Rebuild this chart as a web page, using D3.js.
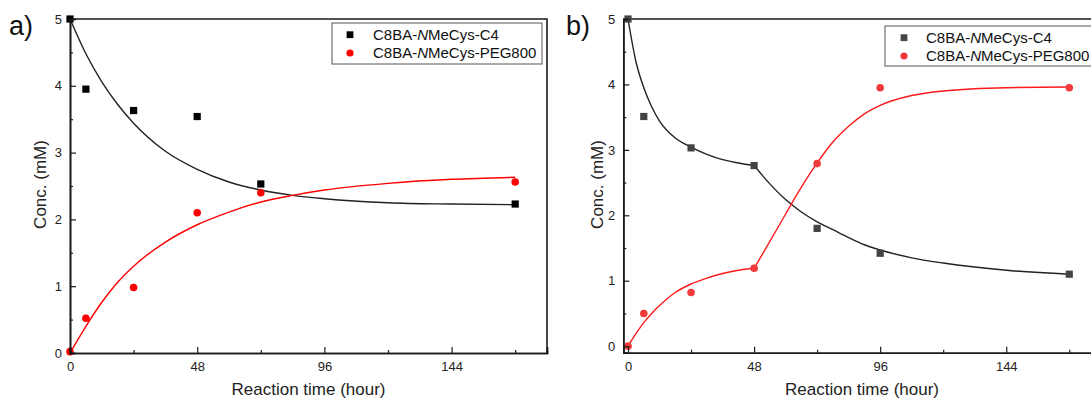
<!DOCTYPE html>
<html>
<head>
<meta charset="utf-8">
<script src="https://cdn.jsdelivr.net/npm/d3@7"></script>
<style>
  body { margin: 0; background: #fff; }
  svg { display: block; font-family: "Liberation Sans", Arial, sans-serif; }
</style>
</head>
<body>
<svg id="chart" width="1091" height="398"></svg>
<script>
// measured points, panel a
var hoursA = [0, 6, 24, 48, 72, 168];
var c4A = [5.0, 3.95, 3.63, 3.54, 2.53, 2.23];
var pegA = [0.02, 0.52, 0.98, 2.10, 2.40, 2.56];

// measured points, panel b
var hoursB = [0, 6, 24, 48, 72, 96, 168];
var c4B = [5.0, 3.51, 3.03, 2.76, 1.80, 1.42, 1.10];
var pegB = [0.0, 0.50, 0.82, 1.19, 2.79, 3.95, 3.95];

// fitted curves
var fitHoursA = [0, 6, 12, 18, 24, 36, 48, 60, 72, 84, 96, 120, 144, 168];
var fitC4A = [5.0, 4.48, 4.06, 3.72, 3.44, 3.02, 2.75, 2.56, 2.44, 2.36, 2.31, 2.25, 2.23, 2.22];
var fitPegA = [0, 0.40, 0.76, 1.06, 1.30, 1.66, 1.92, 2.11, 2.26, 2.36, 2.44, 2.54, 2.60, 2.63];

var fitHoursB1 = [0, 3, 6, 9, 12, 18, 24, 30, 36, 42, 48];
var fitC4B1 = [5.0, 4.35, 3.95, 3.66, 3.44, 3.18, 3.04, 2.93, 2.85, 2.80, 2.76];
var fitPegB1 = [0, 0.19, 0.36, 0.50, 0.62, 0.82, 0.95, 1.04, 1.11, 1.16, 1.19];
var fitHoursB2 = [48, 54, 60, 66, 72, 78, 84, 90, 96, 108, 120, 144, 168];
var fitC4B2 = [2.76, 2.48, 2.24, 2.05, 1.90, 1.78, 1.66, 1.55, 1.47, 1.35, 1.27, 1.16, 1.10];
var fitPegB2 = [1.19, 1.60, 2.02, 2.43, 2.80, 3.12, 3.36, 3.55, 3.68, 3.83, 3.90, 3.95, 3.96];

var xTicks = [0, 48, 96, 144];
var xMinor = [24, 72, 120, 168];
var yTicks = [0, 1, 2, 3, 4, 5];
var yMinor = [0.5, 1.5, 2.5, 3.5, 4.5];
var seriesNames = ['C8BA-', 'N', 'MeCys-C4', 'MeCys-PEG800'];

var svg = d3.select('#chart');

function zip(xs, ys) {
	return xs.map(function (x, i) { return [x, ys[i]]; });
}

function drawPanel(p) {
	var x = d3.scaleLinear().domain(p.xDomain).range([p.left, p.right]);
	var y = d3.scaleLinear().domain(p.yDomain).range([p.bottom, p.top]);
	var g = svg.append('g');

	// frame (top and right)
	g.append('path')
		.attr('d', 'M' + p.left + ',' + p.top + 'H' + p.right + 'V' + p.bottom)
		.attr('fill', 'none')
		.attr('stroke', '#1a1a1a')
		.attr('stroke-width', 1.6);

	// fitted curves
	var line = d3.line()
		.x(function (d) { return x(d[0]); })
		.y(function (d) { return y(d[1]); })
		.curve(d3.curveMonotoneX);
	p.fits.forEach(function (f) {
		g.append('path')
			.datum(zip(f.hours, f.values))
			.attr('d', line)
			.attr('fill', 'none')
			.attr('stroke', f.color)
			.attr('stroke-width', 1.4);
	});

	// squares
	g.selectAll('rect.pt')
		.data(zip(p.hours, p.c4))
		.enter()
		.append('rect')
		.attr('class', 'pt')
		.attr('x', function (d) { return x(d[0]) - 3.6; })
		.attr('y', function (d) { return y(d[1]) - 3.6; })
		.attr('width', 7.2)
		.attr('height', 7.2)
		.attr('fill', p.squareColor);

	// circles
	g.selectAll('circle.pt')
		.data(zip(p.hours, p.peg))
		.enter()
		.append('circle')
		.attr('class', 'pt')
		.attr('cx', function (d) { return x(d[0]); })
		.attr('cy', function (d) { return y(d[1]); })
		.attr('r', 3.8)
		.attr('fill', p.circleColor);

	// axes, ticks point inward
	g.append('g')
		.attr('transform', 'translate(0,' + p.bottom + ')')
		.call(d3.axisBottom(x).tickValues(xTicks).tickSize(-6).tickPadding(9).tickFormat(d3.format('d')));
	g.append('g')
		.attr('transform', 'translate(0,' + p.bottom + ')')
		.call(d3.axisBottom(x).tickValues(xMinor).tickSize(-3).tickFormat(''));
	g.append('g')
		.attr('transform', 'translate(' + p.left + ',0)')
		.call(d3.axisLeft(y).tickValues(yTicks).tickSize(-6).tickPadding(8).tickFormat(d3.format('d')));
	g.append('g')
		.attr('transform', 'translate(' + p.left + ',0)')
		.call(d3.axisLeft(y).tickValues(yMinor).tickSize(-3).tickFormat(''));

	g.selectAll('.domain').attr('stroke', '#1a1a1a').attr('stroke-width', 1.6);
	g.selectAll('.tick line').attr('stroke', '#1a1a1a').attr('stroke-width', 1.2);
	g.selectAll('.tick text')
		.attr('fill', '#222')
		.style('font-size', '13px')
		.style('font-family', '"Liberation Sans", Arial, sans-serif');

	// axis titles
	g.append('text')
		.attr('x', (p.left + p.right) / 2)
		.attr('y', 395)
		.attr('text-anchor', 'middle')
		.style('font-size', '17px')
		.attr('fill', '#222')
		.text('Reaction time (hour)');
	g.append('text')
		.attr('transform', 'translate(' + p.yTitleX + ',' + 184.5 + ') rotate(-90)')
		.attr('text-anchor', 'middle')
		.attr('dy', '0.35em')
		.style('font-size', '17px')
		.attr('fill', '#222')
		.text('Conc. (mM)');

	// panel letter
	g.append('text')
		.attr('x', p.labelX)
		.attr('y', 35)
		.style('font-size', '27px')
		.attr('fill', '#111')
		.text(p.label);

	// legend
	var lg = g.append('g');
	lg.append('rect')
		.attr('x', p.legend[0])
		.attr('y', p.legend[1])
		.attr('width', p.legend[2])
		.attr('height', p.legend[3])
		.attr('fill', '#fff')
		.attr('stroke', '#555')
		.attr('stroke-width', 1);
	var mx = p.legend[0] + p.legendMarker;
	var tx = p.legend[0] + p.legendText;
	var r1 = p.legend[1] + 11.7, r2 = p.legend[1] + 30;
	lg.append('rect')
		.attr('x', mx - 3.4).attr('y', r1 - 3.4)
		.attr('width', 6.8).attr('height', 6.8)
		.attr('fill', p.squareColor);
	lg.append('circle')
		.attr('cx', mx).attr('cy', r2).attr('r', 3.6)
		.attr('fill', p.circleColor);
	[[r1, seriesNames[2]], [r2, seriesNames[3]]].forEach(function (row) {
		var t = lg.append('text')
			.attr('x', tx)
			.attr('y', row[0])
			.attr('dy', '0.36em')
			.style('font-size', '15px')
			.attr('fill', '#111');
		t.append('tspan').text(seriesNames[0]);
		t.append('tspan').style('font-style', 'italic').text(seriesNames[1]);
		t.append('tspan').text(row[1]);
	});
}

drawPanel({
	label: 'a)', labelX: 9,
	left: 70, right: 547, top: 19, bottom: 353,
	xDomain: [0, 180], yDomain: [0, 5],
	yTitleX: 40,
	hours: hoursA, c4: c4A, peg: pegA,
	squareColor: '#000', circleColor: '#ff0000',
	fits: [
		{ hours: fitHoursA, values: fitC4A, color: '#222' },
		{ hours: fitHoursA, values: fitPegA, color: '#ff0000' }
	],
	legend: [332, 23, 210, 41], legendMarker: 18, legendText: 41
});

drawPanel({
	label: 'b)', labelX: 566,
	left: 623.3, right: 1100.8, top: 19, bottom: 352.7,
	xDomain: [-1.8, 180], yDomain: [-0.1, 5],
	yTitleX: 597,
	hours: hoursB, c4: c4B, peg: pegB,
	squareColor: '#444', circleColor: '#f23a3a',
	fits: [
		{ hours: fitHoursB1, values: fitC4B1, color: '#222' },
		{ hours: fitHoursB2, values: fitC4B2, color: '#222' },
		{ hours: fitHoursB1, values: fitPegB1, color: '#ff1a1a' },
		{ hours: fitHoursB2, values: fitPegB2, color: '#ff1a1a' }
	],
	legend: [885, 26, 215, 40], legendMarker: 19, legendText: 41
});
</script>
</body>
</html>
